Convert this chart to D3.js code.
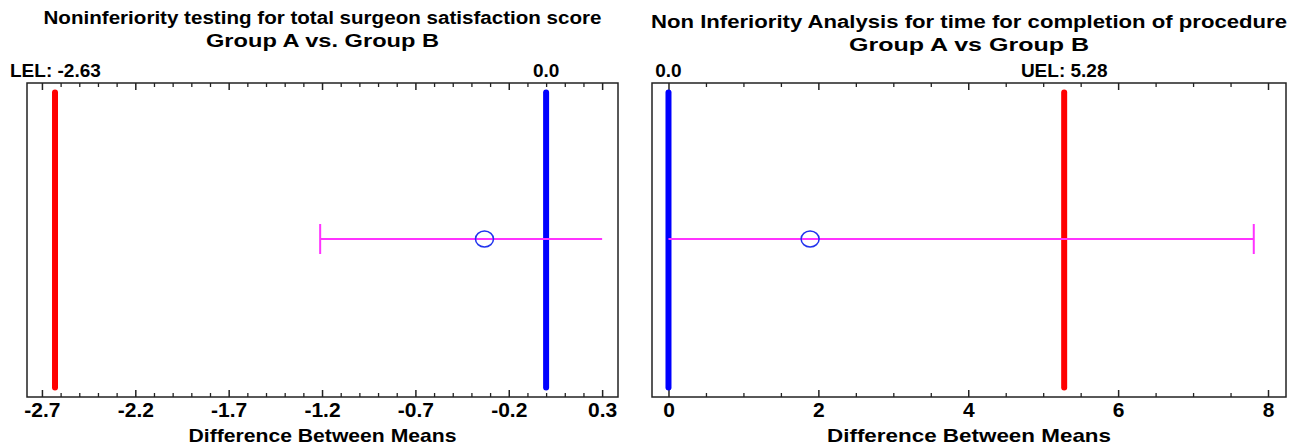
<!DOCTYPE html>
<html>
<head>
<meta charset="utf-8">
<script src="https://cdn.jsdelivr.net/npm/d3@7"></script>
<style>
  body { margin: 0; background: #fff; }
  svg { display: block; font-family: "Liberation Sans", Arial, sans-serif; }
  .title { font-weight: bold; font-size: 18px; fill: #000; }
  .lim { font-weight: bold; font-size: 19px; fill: #000; }
  .tick-label { font-weight: bold; font-size: 21px; fill: #000; }
  .axis-labels { font-weight: bold; font-size: 19px; fill: #000; }
</style>
</head>
<body>
<svg width="1293" height="446"></svg>
<script>
// chart data
const titles = ["Noninferiority testing for total surgeon satisfaction score",
                "Non Inferiority Analysis for time for completion of procedure"];
const subtitles = ["Group A vs. Group B", "Group A vs Group B"];
const limitNames = ["LEL", "UEL"];
const limits = [-2.63, 5.28];
const zeroLines = [0, 0];
const estimates = [-0.33, 1.89];
const ciLow = [-1.21, 0];
const ciHigh = [0.30, 7.81];
const capSide = ["low", "high"];
const xDomains = [[-2.78, 0.385], [-0.22, 8.24]];
const majorTicks = [[-2.7, -2.2, -1.7, -1.2, -0.7, -0.2, 0.3], [0, 2, 4, 6, 8]];
const minorSteps = [0.1, 0.5];
const tickDigits = [1, 0];
const xTitle = "Difference Between Means";

// global layout
const svg = d3.select("svg");
const panelX = [[27, 618], [652, 1286]];
const plotTop = 83, plotBottom = 397;
const titleWidths = [[558, 233], [636, 240]];
const xTitleWidths = [268, 284];

const yScale = d3.scaleLinear().domain([0, 1]).range([plotBottom, plotTop]);

function drawPanel(i) {
    const g = svg.append("g");
    const x = d3.scaleLinear().domain(xDomains[i]).range(panelX[i]);
    const cx = (panelX[i][0] + panelX[i][1]) / 2;

    // titles
    [titles[i], subtitles[i]].forEach((t, k) => {
        g.append("text")
            .attr("class", "title")
            .attr("x", cx)
            .attr("y", k == 0 ? (i == 0 ? 24 : 28) : (i == 0 ? 47 : 51))
            .attr("text-anchor", "middle")
            .attr("textLength", titleWidths[i][k])
            .attr("lengthAdjust", "spacingAndGlyphs")
            .text(t);
    });

    // frame
    g.append("rect")
        .attr("x", panelX[i][0])
        .attr("y", plotTop)
        .attr("width", panelX[i][1] - panelX[i][0])
        .attr("height", plotBottom - plotTop)
        .attr("fill", "none")
        .attr("stroke", "#222")
        .attr("stroke-width", 1.5);

    // ticks, top and bottom, pointing inward
    const lo = majorTicks[i][0], hi = majorTicks[i][majorTicks[i].length - 1];
    const step = minorSteps[i];
    const n = Math.round((hi - lo) / step);
    const minor = d3.range(n + 1).map(k => +(lo + k * step).toFixed(3))
        .filter(v => !majorTicks[i].some(m => Math.abs(m - v) < 1e-6));

    const bot = d3.axisBottom(x).tickValues(majorTicks[i])
        .tickSize(-7).tickSizeOuter(0)
        .tickFormat(d => d.toFixed(tickDigits[i]));
    const ga = g.append("g").attr("transform", "translate(0," + plotBottom + ")").call(bot);
    ga.select(".domain").remove();
    ga.selectAll("line").attr("stroke", "#222").attr("stroke-width", 1.5);
    ga.attr("font-size", null).attr("font-family", null);
    ga.selectAll("text").attr("class", "tick-label").attr("fill", "#000")
        .attr("y", 5).attr("dy", "0.71em");

    const botMinor = d3.axisBottom(x).tickValues(minor).tickSize(-4).tickSizeOuter(0).tickFormat("");
    const gm = g.append("g").attr("transform", "translate(0," + plotBottom + ")").call(botMinor);
    gm.select(".domain").remove();
    gm.selectAll("line").attr("stroke", "#222").attr("stroke-width", 1.3);

    const topMaj = d3.axisTop(x).tickValues(majorTicks[i]).tickSize(-7).tickSizeOuter(0).tickFormat("");
    const gt = g.append("g").attr("transform", "translate(0," + plotTop + ")").call(topMaj);
    gt.select(".domain").remove();
    gt.selectAll("line").attr("stroke", "#222").attr("stroke-width", 1.5);

    const topMin = d3.axisTop(x).tickValues(minor).tickSize(-4).tickSizeOuter(0).tickFormat("");
    const gtm = g.append("g").attr("transform", "translate(0," + plotTop + ")").call(topMin);
    gtm.select(".domain").remove();
    gtm.selectAll("line").attr("stroke", "#222").attr("stroke-width", 1.3);

    // axis title
    g.append("text")
        .attr("class", "axis-labels")
        .attr("x", cx)
        .attr("y", 442)
        .attr("text-anchor", "middle")
        .attr("textLength", xTitleWidths[i])
        .attr("lengthAdjust", "spacingAndGlyphs")
        .text(xTitle);

    // limit lines
    const lines = [
        {v: limits[i], color: "#ff0000", label: limitNames[i] + ": " + limits[i].toFixed(2), start: limitNames[i] == "LEL"},
        {v: zeroLines[i], color: "#0000ff", label: zeroLines[i].toFixed(1), start: false}
    ];
    g.selectAll(".limline")
        .data(lines)
        .join("line")
        .attr("class", "limline")
        .attr("x1", d => x(d.v))
        .attr("x2", d => x(d.v))
        .attr("y1", yScale(0.97))
        .attr("y2", yScale(0.03))
        .attr("stroke", d => d.color)
        .attr("stroke-width", 6)
        .attr("stroke-linecap", "round");

    g.selectAll(".lim")
        .data(lines)
        .join("text")
        .attr("class", "lim")
        .attr("x", d => d.start ? 10 : x(d.v))
        .attr("y", 77)
        .attr("text-anchor", d => d.start ? "start" : "middle")
        .text(d => d.label);

    // confidence interval
    const yc = yScale(0.5) - 1;
    g.append("line")
        .attr("x1", x(ciLow[i])).attr("x2", x(ciHigh[i]))
        .attr("y1", yc).attr("y2", yc)
        .attr("stroke", "#ff33ff").attr("stroke-width", 2);
    const capV = capSide[i] == "low" ? ciLow[i] : ciHigh[i];
    g.append("line")
        .attr("x1", x(capV)).attr("x2", x(capV))
        .attr("y1", yc - 15).attr("y2", yc + 15)
        .attr("stroke", "#ff33ff").attr("stroke-width", 2);
    g.append("ellipse")
        .attr("cx", x(estimates[i]))
        .attr("cy", yc)
        .attr("rx", 9).attr("ry", 8)
        .attr("fill", "none")
        .attr("stroke", "#2233ee")
        .attr("stroke-width", 1.5);
}

drawPanel(0);
drawPanel(1);
</script>
</body>
</html>
